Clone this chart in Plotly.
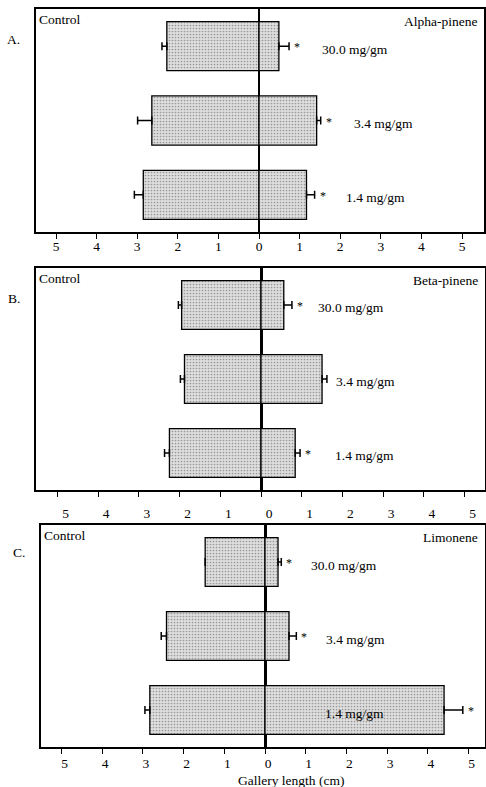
import plotly.graph_objects as go

# ---------------- data ----------------
doses = ["30.0 mg/gm", "3.4 mg/gm", "1.4 mg/gm"]
panel_letters = ["A.", "B.", "C."]
compounds = ["Alpha-pinene", "Beta-pinene", "Limonene"]

alpha_control = [2.27, 2.64, 2.85]
alpha_control_err = [0.12, 0.35, 0.22]
alpha_treated = [0.49, 1.42, 1.17]
alpha_treated_err = [0.25, 0.10, 0.20]
alpha_signif = [True, True, True]

beta_control = [1.95, 1.88, 2.25]
beta_control_err = [0.08, 0.10, 0.12]
beta_treated = [0.56, 1.50, 0.84]
beta_treated_err = [0.20, 0.12, 0.12]
beta_signif = [True, False, True]

limonene_control = [1.47, 2.42, 2.83]
limonene_control_err = [0.0, 0.13, 0.12]
limonene_treated = [0.32, 0.59, 4.40]
limonene_treated_err = [0.08, 0.18, 0.46]
limonene_signif = [True, True, True]

tick_vals = [-5, -4, -3, -2, -1, 0, 1, 2, 3, 4, 5]
tick_text = ["5", "4", "3", "2", "1", "0", "1", "2", "3", "4", "5"]
x_title = "Gallery length (cm)"

# ---------------- layout (pixels) ----------------
W, H = 486, 787
FONT = "Liberation Serif"
FS = 13.5

panels = [
    dict(control=alpha_control, cerr=alpha_control_err, treated=alpha_treated,
         terr=alpha_treated_err, sig=alpha_signif,
         box=(36, 9, 484, 232), zero=259, scale=40.6, zw=1.5,
         label_x=[1.50, 2.30, 2.10], standoff=-4, shift=0),
    dict(control=beta_control, cerr=beta_control_err, treated=beta_treated,
         terr=beta_treated_err, sig=beta_signif,
         box=(36, 268, 485, 490), zero=261, scale=40.7, zw=2.5,
         label_x=[1.35, 1.79, 1.77], standoff=5, shift=8),
    dict(control=limonene_control, cerr=limonene_control_err, treated=limonene_treated,
         terr=limonene_treated_err, sig=limonene_signif,
         box=(41, 525, 485, 747), zero=265, scale=40.7, zw=3,
         label_x=[1.08, 1.45, 1.43], standoff=-2, shift=3),
]

fig = go.Figure()
layout = dict(width=W, height=H, margin=dict(l=0, r=0, t=0, b=0),
              paper_bgcolor="white", plot_bgcolor="white",
              showlegend=False, barmode="overlay",
              font=dict(family=FONT, size=FS, color="black"))
annotations = []

bar_style = dict(color="#dedede",
                 line=dict(color="black", width=1.3),
                 pattern=dict(shape=".", fgcolor="#505050", size=3,
                              solidity=0.25, fillmode="overlay"))

for i, p in enumerate(panels):
    n = "" if i == 0 else str(i + 1)
    xa, ya = "x" + n, "y" + n
    x0, y0, x1, y1 = p["box"]
    zero, sc = p["zero"], p["scale"]
    xr = [-(zero - x0) / sc, (x1 - zero) / sc]

    fig.add_trace(go.Bar(
        y=doses, x=[-v for v in p["control"]], orientation="h", width=0.66,
        marker=bar_style, xaxis=xa, yaxis=ya,
        error_x=dict(type="data", symmetric=False,
                     array=[0] * len(doses), arrayminus=p["cerr"],
                     color="black", thickness=1.5, width=4)))
    fig.add_trace(go.Bar(
        y=doses, x=p["treated"], orientation="h", width=0.66,
        marker=bar_style, xaxis=xa, yaxis=ya,
        error_x=dict(type="data", symmetric=False,
                     array=p["terr"], arrayminus=[0] * len(doses),
                     color="black", thickness=1.5, width=4)))

    layout["xaxis" + n] = dict(
        domain=[x0 / W, x1 / W], range=xr, anchor=ya,
        showline=True, mirror=True, linecolor="black", linewidth=1.5,
        ticks="outside", ticklen=5, tickwidth=1.2, tickcolor="black",
        tickvals=tick_vals, ticktext=tick_text,
        ticklabelstandoff=p["standoff"], ticklabelshift=p["shift"],
        showgrid=False, zeroline=True, zerolinecolor="black",
        zerolinewidth=p["zw"], layer="above traces",
        tickfont=dict(family=FONT, size=FS, color="black"), fixedrange=True)
    layout["yaxis" + n] = dict(
        domain=[1 - y1 / H, 1 - y0 / H], anchor=xa,
        type="category", categoryorder="array", categoryarray=doses,
        range=[2.5, -0.5], showline=True, mirror=True,
        linecolor="black", linewidth=1.5, showticklabels=False,
        ticks="", showgrid=False, zeroline=False, fixedrange=True)

    # dose labels, significance stars
    for j, d in enumerate(doses):
        annotations.append(dict(
            x=p["label_x"][j], y=d, xref=xa, yref=ya, text=d,
            showarrow=False, xanchor="left", yanchor="middle", yshift=-3,
            font=dict(family=FONT, size=FS, color="black")))
        if p["sig"][j]:
            annotations.append(dict(
                x=p["treated"][j] + p["terr"][j], y=d, xref=xa, yref=ya,
                text="*", showarrow=False, xanchor="left", yanchor="middle",
                xshift=3, yshift=-1,
                font=dict(family=FONT, size=12, color="black")))

    # corner texts
    annotations.append(dict(
        x=0, y=1, xref=xa + " domain", yref=ya + " domain", text="Control",
        showarrow=False, xanchor="left", yanchor="top", xshift=1, yshift=-1,
        font=dict(family=FONT, size=FS, color="black")))
    annotations.append(dict(
        x=1, y=1, xref=xa + " domain", yref=ya + " domain", text=compounds[i],
        showarrow=False, xanchor="right", yanchor="top", xshift=-5, yshift=-3,
        font=dict(family=FONT, size=FS, color="black")))
    annotations.append(dict(
        x=0, y=1, xref=xa + " domain", yref=ya + " domain",
        text=panel_letters[i], showarrow=False, xanchor="right",
        yanchor="top", xshift=-14, yshift=-21 if i < 2 else -18,
        font=dict(family=FONT, size=FS, color="black")))

annotations.append(dict(
    x=291 / W, y=1 - 780 / H, xref="paper", yref="paper", text=x_title,
    showarrow=False, xanchor="center", yanchor="middle",
    font=dict(family=FONT, size=FS, color="black")))

layout["annotations"] = annotations
fig.update_layout(**layout)
fig.write_html("out.html")
